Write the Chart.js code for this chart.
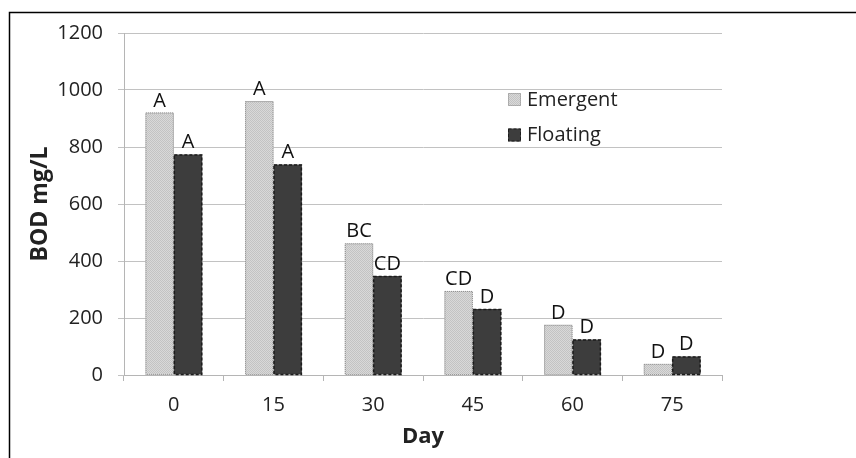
<!DOCTYPE html>
<html>
<head>
<meta charset="utf-8">
<script src="https://cdn.jsdelivr.net/npm/chart.js@4.4.1/dist/chart.umd.min.js"></script>
<style>
  html, body { margin: 0; padding: 0; background: #fff; }
</style>
</head>
<body>
<canvas id="bodChart" width="856" height="458"></canvas>
<script>
// Values
const days = ['0', '15', '30', '45', '60', '75'];
const emergent = [921, 961, 462, 295, 176, 39];
const floating = [774, 739, 347, 232, 125, 65];
const emergentLetters = ['A', 'A', 'BC', 'CD', 'D', 'D'];
const floatingLetters = ['A', 'A', 'CD', 'D', 'D', 'D'];
const yTicks = [0, 200, 400, 600, 800, 1000, 1200];

const FONT = '"Open Sans", "DejaVu Sans", sans-serif';
Chart.defaults.font.family = FONT;
Chart.defaults.color = '#222';

// stippled light grey fill like the original
function stipple() {
    const c = document.createElement('canvas');
    c.width = 2; c.height = 2;
    const g = c.getContext('2d');
    g.fillStyle = '#d9d9d9';
    g.fillRect(0, 0, 2, 2);
    g.fillStyle = '#c3c3c3';
    g.fillRect(0, 0, 1, 1);
    g.fillRect(1, 1, 1, 1);
    return g.createPattern(c, 'repeat');
}
const emergentFill = stipple();

const styles = [
    { fill: emergentFill, stroke: '#8a8a8a', dash: [1, 1], width: 1 },
    { fill: '#3d3d3d', stroke: '#1c1c1c', dash: [3, 2], width: 1.5 }
];
const letters = [emergentLetters, floatingLetters];

// bar outlines (dotted / dashed) and letter labels
const barExtras = {
    id: 'barExtras',
    afterDatasetsDraw(chart) {
        const ctx = chart.ctx;
        const base = chart.scales.y.getPixelForValue(0);
        chart.data.datasets.forEach((ds, i) => {
            const meta = chart.getDatasetMeta(i);
            const st = styles[i];
            meta.data.forEach((bar, j) => {
                const w = bar.width;
                ctx.save();
                ctx.strokeStyle = st.stroke;
                ctx.lineWidth = st.width;
                ctx.setLineDash(st.dash);
                ctx.strokeRect(bar.x - w / 2 + 0.5, bar.y + 0.5, w - 1, base - bar.y - 1);
                ctx.restore();

                ctx.save();
                ctx.font = '20px ' + FONT;
                ctx.fillStyle = '#111';
                ctx.textAlign = 'center';
                ctx.textBaseline = 'alphabetic';
                ctx.fillText(letters[i][j], bar.x, bar.y - 6);
                ctx.restore();
            });
        });
    }
};

// legend inside the plot, plus the outer frame
const extras = {
    id: 'extras',
    afterDraw(chart) {
        const ctx = chart.ctx;
        ctx.save();
        ctx.strokeStyle = '#000';
        ctx.lineWidth = 1.5;
        ctx.beginPath();
        ctx.moveTo(9.5, 458);
        ctx.lineTo(9.5, 12.5);
        ctx.lineTo(856, 12.5);
        ctx.stroke();
        ctx.restore();

        const rows = [100, 135.5];
        chart.data.datasets.forEach((ds, i) => {
            const st = styles[i];
            const y = rows[i];
            ctx.save();
            ctx.fillStyle = st.fill;
            ctx.fillRect(508, y - 7, 13, 13);
            ctx.strokeStyle = st.stroke;
            ctx.lineWidth = 1;
            ctx.setLineDash(st.dash);
            ctx.strokeRect(508.5, y - 6.5, 12, 12);
            ctx.restore();
            ctx.save();
            ctx.font = '20px ' + FONT;
            ctx.fillStyle = '#222';
            ctx.textBaseline = 'middle';
            ctx.fillText(ds.label, 527, y);
            ctx.restore();
        });
    }
};

new Chart(document.getElementById('bodChart'), {
    type: 'bar',
    data: {
        labels: days,
        datasets: [
            { label: 'Emergent', data: emergent, backgroundColor: emergentFill, borderWidth: 0 },
            { label: 'Floating', data: floating, backgroundColor: '#3d3d3d', borderWidth: 0 }
        ]
    },
    options: {
        responsive: false,
        animation: false,
        devicePixelRatio: 1,
        categoryPercentage: 0.57,
        barPercentage: 1,
        layout: { padding: { top: 33, right: 134, left: 0, bottom: 0 } },
        plugins: {
            legend: { display: false },
            tooltip: { enabled: false }
        },
        scales: {
            x: {
                afterFit(scale) { scale.height = 83; },
                grid: { offset: true, drawOnChartArea: false, tickLength: 6, color: '#b5b5b5' },
                border: { color: '#b5b5b5' },
                ticks: { font: { size: 20 }, padding: 12, color: '#222' },
                title: {
                    display: true, text: 'Day',
                    font: { size: 22, weight: 'bold' },
                    padding: { top: 0, bottom: 8 }, color: '#222'
                }
            },
            y: {
                min: 0, max: 1200,
                afterFit(scale) { scale.width = 124; },
                afterBuildTicks(scale) { scale.ticks = yTicks.map(v => ({ value: v })); },
                grid: { tickLength: 6, color: '#c2c2c2' },
                border: { color: '#b5b5b5' },
                ticks: { font: { size: 20 }, padding: 15, color: '#222', callback: v => String(v) },
                title: {
                    display: true, text: 'BOD mg/L',
                    font: { size: 23, weight: 'bold' },
                    padding: { top: 27, bottom: 0 }, color: '#222'
                }
            }
        }
    },
    plugins: [barExtras, extras]
});
</script>
</body>
</html>
